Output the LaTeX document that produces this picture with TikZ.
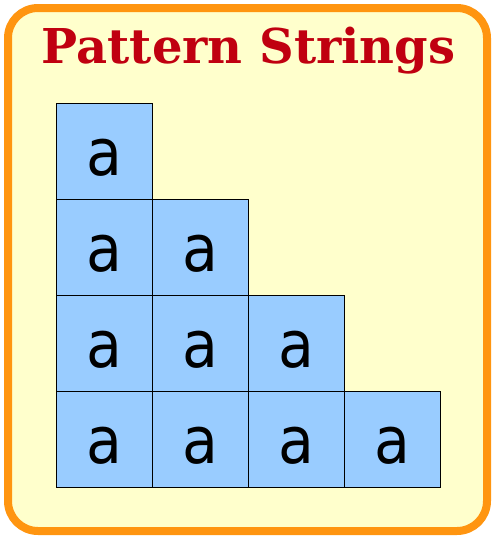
\documentclass[tikz,border=0pt]{standalone}
\usepackage{fontspec}
\newfontfamily\titlefont{DejaVu Serif}
\newfontfamily\cellfont{DejaVu Sans Condensed}
\definecolor{bgyellow}{HTML}{FFFFCC}
\definecolor{frameorange}{HTML}{FF9510}
\definecolor{titlered}{HTML}{C00010}
\definecolor{cellblue}{HTML}{99CCFF}
\tikzset{
  cellbox/.style={draw=black, line width=0.8pt, fill=cellblue, minimum size=96pt, inner sep=0pt, outer sep=0pt, anchor=north west},
  celltext/.style={font=\cellfont\fontsize{65}{65}\selectfont, inner sep=0pt, yshift=-7pt},
}
\begin{document}
\begin{tikzpicture}[x=1pt,y=-1pt]
\useasboundingbox (0,0) rectangle (495,536);
\draw[draw=frameorange, fill=bgyellow, line width=8pt, rounded corners=30pt] (8,8) rectangle (487,531);
\node[text=titlered, font=\titlefont\bfseries\fontsize{48}{48}\selectfont, anchor=base] (title) at (248.5,63) {Pattern Strings};
\foreach \r in {0,...,3}{
  \foreach \c in {0,...,\r}{
    \node[cellbox] (c\r\c) at ({56+96*\c},{103+96*\r}) {};
    \node[celltext] (t\r\c) at (c\r\c.center) {a};
  }
}
\end{tikzpicture}
\end{document}
